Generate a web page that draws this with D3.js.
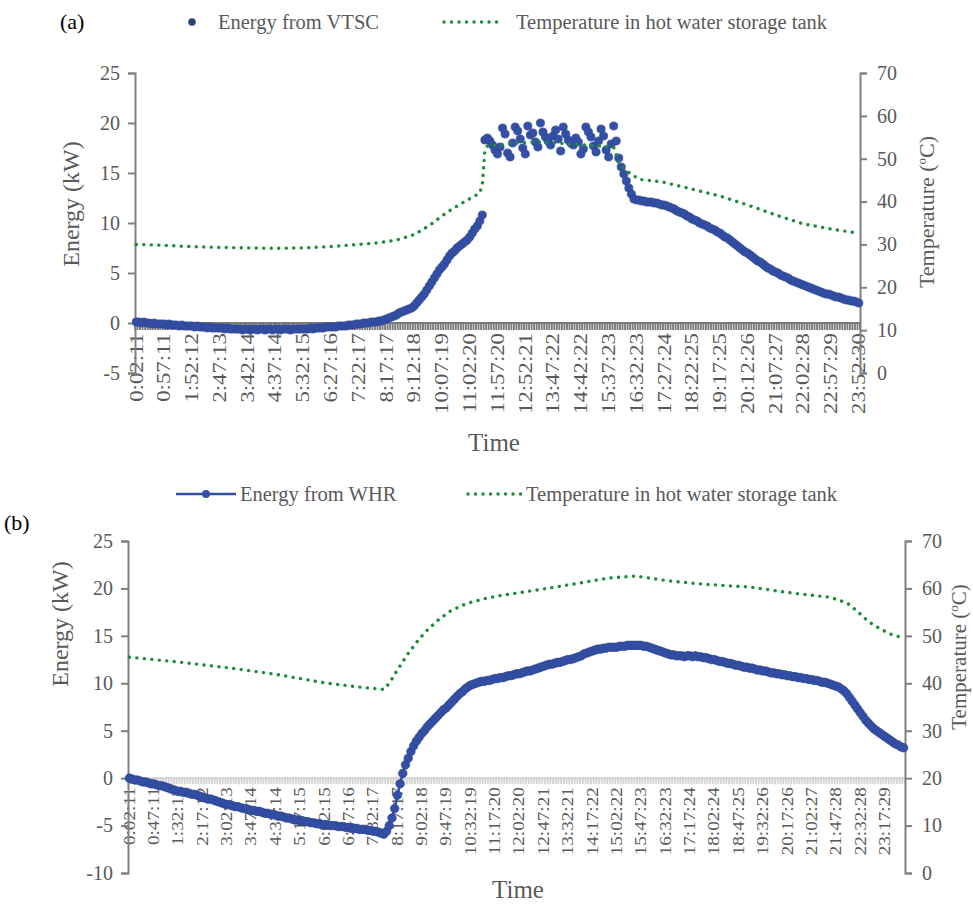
<!DOCTYPE html>
<html>
<head>
<meta charset="utf-8">
<style>
  body { margin: 0; background: #fff; }
  svg { display: block; font-family: "Liberation Serif", "Times New Roman", serif; }
</style>
</head>
<body>
<div id="container"></div>
<script src="https://cdn.jsdelivr.net/npm/d3@7"></script>
<script>
// ---- data (one sample every ~5 min, 287 samples per day) ----
const timeLabelsA = ["0:02:11", "0:57:11", "1:52:12", "2:47:13", "3:42:14", "4:37:14", "5:32:15",
  "6:27:16", "7:22:17", "8:17:17", "9:12:18", "10:07:19", "11:02:20", "11:57:20", "12:52:21",
  "13:47:22", "14:42:22", "15:37:23", "16:32:23", "17:27:24", "18:22:25", "19:17:25", "20:12:26",
  "21:07:27", "22:02:28", "22:57:29", "23:52:30"];

const timeLabelsB = ["0:02:11", "0:47:11", "1:32:12", "2:17:12", "3:02:13", "3:47:14", "4:32:14",
  "5:17:15", "6:02:15", "6:47:16", "7:32:17", "8:17:17", "9:02:18", "9:47:19", "10:32:19",
  "11:17:20", "12:02:20", "12:47:21", "13:32:21", "14:17:22", "15:02:22", "15:47:23", "16:32:23",
  "17:17:24", "18:02:24", "18:47:25", "19:32:26", "20:17:26", "21:02:27", "21:47:28", "22:32:28",
  "23:17:29"];

// Energy from VTSC (kW), every sample
const energyVTSC = [
  0.1, 0.1, 0.0, 0.1, 0.0, 0.0, -0.1, 0.0, -0.1, -0.1, -0.1,
  -0.1, -0.2, -0.1, -0.2, -0.2, -0.2, -0.3, -0.2, -0.3, -0.3, -0.3,
  -0.3, -0.4, -0.3, -0.4, -0.4, -0.4, -0.5, -0.4, -0.5, -0.5, -0.5,
  -0.5, -0.5, -0.6, -0.5, -0.6, -0.6, -0.6, -0.6, -0.6, -0.7, -0.6,
  -0.6, -0.7, -0.6, -0.6, -0.7, -0.6, -0.6, -0.7, -0.6, -0.6, -0.7,
  -0.6, -0.6, -0.7, -0.6, -0.6, -0.6, -0.7, -0.6, -0.6, -0.6, -0.6,
  -0.6, -0.6, -0.6, -0.5, -0.6, -0.5, -0.5, -0.5, -0.5, -0.4, -0.4,
  -0.4, -0.4, -0.4, -0.3, -0.3, -0.3, -0.3, -0.2, -0.2, -0.2, -0.1,
  -0.1, -0.1, 0.0, 0.0, 0.0, 0.1, 0.1, 0.1, 0.2, 0.2, 0.3,
  0.4, 0.5, 0.6, 0.7, 0.8, 1.0, 1.1, 1.2, 1.3, 1.4, 1.5,
  1.7, 2.0, 2.3, 2.6, 2.9, 3.3, 3.7, 4.1, 4.5, 4.9, 5.3,
  5.6, 5.9, 6.3, 6.7, 7.0, 7.2, 7.5, 7.7, 7.9, 8.1, 8.3,
  8.6, 9.0, 9.4, 9.7, 10.2, 10.8, 18.3, 18.5, 18.2, 17.8, 17.3,
  16.9, 17.6, 19.5, 18.9, 17.0, 16.6, 18.0, 19.6, 19.2, 18.4, 17.5,
  16.9, 19.7, 18.8, 19.0, 18.1, 17.6, 20.0, 19.1, 18.6, 18.2, 17.8,
  18.7, 19.3, 18.4, 17.2, 19.6, 18.9, 18.3, 18.0, 17.8, 18.5, 18.1,
  16.9, 17.4, 19.6, 19.1, 18.6, 17.7, 17.1, 18.2, 19.4, 18.7, 17.3,
  16.6, 17.9, 19.7, 18.2, 16.5, 15.6, 14.9, 14.2, 13.5, 12.9, 12.4,
  12.3, 12.3, 12.2, 12.2, 12.1, 12.1, 12.1, 12.0, 12.0, 11.9, 11.8,
  11.8, 11.7, 11.6, 11.5, 11.4, 11.2, 11.1, 11.0, 10.9, 10.7, 10.6,
  10.4, 10.3, 10.2, 10.0, 9.9, 9.8, 9.7, 9.5, 9.4, 9.3, 9.1,
  9.0, 8.8, 8.6, 8.5, 8.3, 8.1, 7.9, 7.7, 7.5, 7.3, 7.1,
  7.0, 6.8, 6.6, 6.4, 6.2, 6.1, 5.9, 5.7, 5.5, 5.4, 5.2,
  5.1, 5.0, 4.8, 4.7, 4.6, 4.5, 4.3, 4.2, 4.1, 4.0, 3.9,
  3.8, 3.7, 3.6, 3.5, 3.4, 3.3, 3.2, 3.1, 3.0, 2.9, 2.9,
  2.8, 2.7, 2.6, 2.6, 2.5, 2.4, 2.3, 2.3, 2.2, 2.2, 2.1,
  2.0];

// Tank temperature (°C) for panel (a): [sample, value]
const tempTankA = [[0, 30.0], [11, 29.8], [22, 29.5], [33, 29.3], [44, 29.2], [55, 29.1],
  [66, 29.2], [77, 29.5], [88, 30.0], [96, 30.4], [103, 31.0], [110, 32.3], [116, 34.4],
  [123, 37.5], [130, 40.0], [136, 42.0], [137, 44.0], [138, 52.0], [139, 53.0], [149, 53.6],
  [160, 53.9], [176, 53.3], [189, 52.7], [191, 49.0], [194, 47.2], [199, 45.2], [208, 44.6],
  [218, 43.2], [231, 41.3], [242, 39.2], [253, 36.9], [264, 34.8], [275, 33.6], [286, 32.6]];

// Energy from WHR (kW), every sample
const energyWHR = [
  0.0, -0.1, -0.2, -0.2, -0.3, -0.4, -0.4, -0.5, -0.6,
  -0.6, -0.7, -0.8, -0.8, -0.9, -1.0, -1.1, -1.2, -1.3,
  -1.4, -1.4, -1.5, -1.5, -1.6, -1.7, -1.7, -1.8, -1.9,
  -2.0, -2.1, -2.2, -2.2, -2.3, -2.4, -2.5, -2.6, -2.7,
  -2.8, -2.8, -2.9, -3.0, -3.0, -3.1, -3.2, -3.2, -3.3,
  -3.4, -3.4, -3.5, -3.5, -3.6, -3.7, -3.7, -3.8, -3.8,
  -3.9, -4.0, -4.0, -4.1, -4.2, -4.2, -4.3, -4.4, -4.4,
  -4.5, -4.5, -4.6, -4.6, -4.7, -4.7, -4.8, -4.8, -4.9,
  -4.9, -4.9, -5.0, -5.0, -5.0, -5.1, -5.1, -5.1, -5.2,
  -5.2, -5.3, -5.3, -5.3, -5.4, -5.4, -5.4, -5.5, -5.5,
  -5.6, -5.6, -5.7, -5.8, -5.9, -5.6, -5.0, -4.2, -3.2,
  -1.8, -0.6, 0.5, 1.4, 2.1, 2.8, 3.4, 3.9, 4.3,
  4.7, 5.0, 5.4, 5.7, 6.0, 6.3, 6.6, 6.9, 7.2,
  7.4, 7.7, 8.0, 8.3, 8.6, 8.9, 9.1, 9.4, 9.6,
  9.8, 9.9, 10.0, 10.1, 10.2, 10.2, 10.3, 10.3, 10.4,
  10.5, 10.5, 10.6, 10.6, 10.7, 10.8, 10.8, 10.9, 11.0,
  11.0, 11.1, 11.2, 11.3, 11.3, 11.4, 11.5, 11.6, 11.7,
  11.8, 11.9, 12.0, 12.0, 12.1, 12.2, 12.2, 12.3, 12.4,
  12.5, 12.5, 12.6, 12.7, 12.8, 12.9, 13.1, 13.2, 13.3,
  13.4, 13.5, 13.6, 13.6, 13.7, 13.7, 13.8, 13.8, 13.8,
  13.8, 13.9, 13.9, 13.9, 14.0, 14.0, 14.0, 14.0, 14.0,
  14.0, 13.9, 13.9, 13.8, 13.7, 13.6, 13.5, 13.4, 13.3,
  13.2, 13.1, 13.0, 13.0, 12.9, 12.9, 12.9, 12.8, 12.9,
  12.9, 12.8, 12.9, 12.8, 12.8, 12.7, 12.7, 12.6, 12.5,
  12.5, 12.4, 12.3, 12.3, 12.2, 12.1, 12.1, 12.0, 11.9,
  11.9, 11.8, 11.7, 11.7, 11.6, 11.6, 11.5, 11.4, 11.4,
  11.3, 11.3, 11.2, 11.1, 11.1, 11.0, 11.0, 10.9, 10.9,
  10.8, 10.8, 10.7, 10.7, 10.6, 10.6, 10.5, 10.5, 10.4,
  10.4, 10.3, 10.3, 10.2, 10.1, 10.1, 10.0, 9.9, 9.8,
  9.7, 9.6, 9.4, 9.2, 8.9, 8.5, 8.1, 7.7, 7.3,
  6.9, 6.5, 6.1, 5.8, 5.5, 5.2, 5.0, 4.8, 4.6,
  4.4, 4.2, 4.0, 3.8, 3.6, 3.5, 3.3, 3.2];

// Tank temperature (°C) for panel (b): [sample, value]
const tempTankB = [[0, 45.5], [18, 44.5], [36, 43.3], [54, 41.9], [72, 40.1], [85, 39.2],
  [94, 38.7], [96, 40.0], [99, 42.8], [103, 46.3], [107, 49.3], [110, 51.2], [114, 53.3],
  [119, 55.4], [125, 56.9], [131, 57.8], [136, 58.4], [151, 59.7], [166, 61.1], [177, 62.2],
  [187, 62.6], [199, 61.6], [212, 60.9], [229, 60.3], [245, 59.0], [258, 58.2], [262, 57.6],
  [266, 56.6], [270, 54.6], [273, 53.0], [277, 51.6], [281, 50.4], [286, 49.5]];

const energyTicksA = [-5, 0, 5, 10, 15, 20, 25];
const energyTicksB = [-10, -5, 0, 5, 10, 15, 20, 25];
const tempTicks = [0, 10, 20, 30, 40, 50, 60, 70];

// ---- drawing ----
const W = 973;
const H = 904;
const green = "#1f8c3b";
const blue = "#3450a6";
const grey = "#595959";

const svg = d3.
select("#container").
append("svg").
attr("width", W).
attr("height", H);

function drawPanel(p) {
  const n = p.energy.length;
  const x = d3.scalePoint().domain(d3.range(n)).range([p.left, p.right]).padding(0.5);
  const yL = d3.scaleLinear().domain(d3.extent(p.eTicks)).range([p.bottom, p.top]);
  const yR = d3.scaleLinear().domain(d3.extent(tempTicks)).range([p.bottom, p.top]);
  const y0 = yL(0);
  const g = svg.append("g");

  // dense category ticks on the time axis
  g.append("g").
  selectAll("line").
  data(d3.range(n + 1)).
  enter().
  append("line").
  attr("x1", k => p.left + k * x.step()).
  attr("x2", k => p.left + k * x.step()).
  attr("y1", y0 - 1).
  attr("y2", y0 + p.bandLen).
  attr("stroke", p.bandColor).
  attr("stroke-width", 1.9);

  g.append("line").
  attr("x1", p.left).attr("x2", p.right).
  attr("y1", y0).attr("y2", y0).
  attr("stroke", p.bandColor).attr("stroke-width", 2);

  // time labels
  g.append("g").
  selectAll("text").
  data(p.timeLabels).
  enter().
  append("text").
  attr("transform", (d, k) => `translate(${x(k * p.labelStep)},${y0 + p.bandLen + 3}) rotate(-90) scale(${p.labelStretch},1)`).
  attr("text-anchor", "end").
  attr("dy", "0.33em").
  attr("font-size", p.labelSize).
  attr("fill", grey).
  text(d => d);

  // left and right axes
  const yAxisL = d3.axisLeft(yL).tickValues(p.eTicks).tickFormat(d => String(d)).tickSizeOuter(0).tickSize(7).tickPadding(8);
  const yAxisR = d3.axisRight(yR).tickValues(tempTicks).tickFormat(d => String(d)).tickSizeOuter(0).tickSize(7).tickPadding(10);

  [[yAxisL, p.left], [yAxisR, p.right]].forEach(([ax, pos]) => {
    const a = g.append("g").attr("transform", `translate(${pos},0)`).call(ax);
    a.select(".domain").attr("stroke", "#808080").attr("stroke-width", 2);
    a.selectAll(".tick line").attr("stroke", "#808080").attr("stroke-width", 2);
    a.selectAll(".tick text").
    attr("fill", grey).
    attr("font-size", p.tickSize).
    attr("font-family", "Liberation Serif, Times New Roman, serif");
  });

  // energy series
  if (p.withLine) {
    g.append("path").
    datum(p.energy).
    attr("fill", "none").
    attr("stroke", blue).
    attr("stroke-width", 2.5).
    attr("d", d3.line().x((d, i) => x(i)).y(d => yL(d)));
  }
  g.append("g").
  selectAll("circle").
  data(p.energy).
  enter().
  append("circle").
  attr("cx", (d, i) => x(i)).
  attr("cy", d => yL(d)).
  attr("r", p.markerR).
  attr("fill", blue).
  attr("stroke", "#2c4390").
  attr("stroke-width", 0.6);

  // tank temperature, dotted
  g.append("path").
  datum(p.temp).
  attr("fill", "none").
  attr("stroke", green).
  attr("stroke-width", 3.4).
  attr("stroke-linecap", "round").
  attr("stroke-dasharray", "0.1 7.4").
  attr("d", d3.line().x(d => x(d[0])).y(d => yR(d[1])));

  // axis titles
  g.append("text").
  attr("transform", `translate(${p.eTitleX},${p.eTitleY}) rotate(-90)`).
  attr("text-anchor", "middle").
  attr("font-size", 24).
  attr("fill", grey).
  text("Energy (kW)");

  const tt = g.append("text").
  attr("transform", `translate(${p.tTitleX},${p.tTitleY}) rotate(-90)`).
  attr("text-anchor", "middle").
  attr("font-size", p.tTitleSize).
  attr("fill", grey);
  tt.append("tspan").text("Temperature (");
  tt.append("tspan").attr("font-size", 13).attr("dy", -8).text("o");
  tt.append("tspan").attr("dy", 8).text("C)");

  g.append("text").
  attr("x", p.timeX).
  attr("y", p.timeY).
  attr("text-anchor", "middle").
  attr("font-size", 25).
  attr("fill", grey).
  text("Time");

  // legend
  const lg = g.append("g").attr("font-size", 20.5).attr("fill", grey);
  if (p.withLine) {
    lg.append("line").attr("x1", p.leg1 - 30).attr("x2", p.leg1 + 30).
    attr("y1", p.legY).attr("y2", p.legY).attr("stroke", blue).attr("stroke-width", 2.5);
    lg.append("circle").attr("cx", p.leg1).attr("cy", p.legY).attr("r", 4).attr("fill", blue);
  } else {
    lg.append("circle").attr("cx", p.leg1).attr("cy", p.legY).attr("r", 3.8).attr("fill", "#24477f");
  }
  lg.append("text").attr("x", p.legText1).attr("y", p.legY + 7).text(p.energyName);
  lg.append("line").attr("x1", p.leg2).attr("x2", p.leg2 + 60).
  attr("y1", p.legY).attr("y2", p.legY).
  attr("stroke", green).attr("stroke-width", 3.4).
  attr("stroke-linecap", "round").attr("stroke-dasharray", "0.1 7.4");
  lg.append("text").attr("x", p.legText2).attr("y", p.legY + 7).text("Temperature in hot water storage tank");

  svg.append("text").
  attr("x", p.tagX).
  attr("y", p.tagY).
  attr("font-size", 22).
  attr("fill", "#000").
  text(p.tag);
}

drawPanel({
  energy: energyVTSC, temp: tempTankA, eTicks: energyTicksA, timeLabels: timeLabelsA,
  labelStep: 11, labelSize: 19, labelStretch: 1.2, tickSize: 20,
  left: 135, right: 860, top: 73, bottom: 373,
  bandColor: "#7a7a7a", bandLen: 7, withLine: false, markerR: 4.1,
  eTitleX: 79, eTitleY: 204, tTitleX: 934, tTitleY: 212, tTitleSize: 22, timeX: 494, timeY: 451,
  leg1: 192, legText1: 218, leg2: 444, legText2: 516, legY: 22, energyName: "Energy from VTSC",
  tag: "(a)", tagX: 60, tagY: 29
});

drawPanel({
  energy: energyWHR, temp: tempTankB, eTicks: energyTicksB, timeLabels: timeLabelsB,
  labelStep: 9, labelSize: 16, labelStretch: 1.2, tickSize: 20,
  left: 128, right: 905, top: 541, bottom: 873,
  bandColor: "#d4d4d4", bandLen: 6, withLine: true, markerR: 4.3,
  eTitleX: 68, eTitleY: 624, tTitleX: 966, tTitleY: 657, tTitleSize: 21, timeX: 518, timeY: 898,
  leg1: 206, legText1: 240, leg2: 468, legText2: 526, legY: 494, energyName: "Energy from WHR",
  tag: "(b)", tagX: 4, tagY: 530
});
</script>
</body>
</html>
